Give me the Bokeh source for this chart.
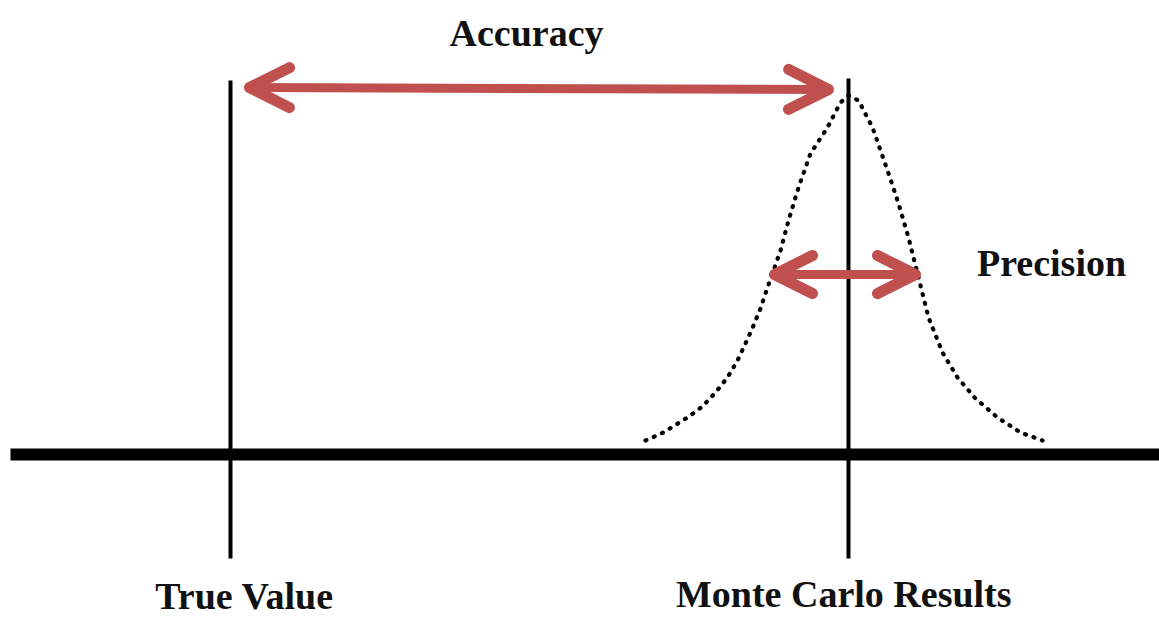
from bokeh.plotting import figure
from bokeh.models import Range1d, Arrow, OpenHead, ColumnDataSource
from bokeh.core.properties import value
from bokeh.embed import file_html
from bokeh.resources import INLINE

# ---- data (page-pixel coordinates) ----
axis_x = [10, 1159]
axis_y = [454, 454]

true_x = [230, 230]
true_y = [80, 558]
mc_x = [848, 848]
mc_y = [78, 558]

curve_x = [645, 663, 687, 702, 715, 727, 737, 745, 753, 760, 766, 772, 780, 788, 798,
           810, 827, 840, 848, 858, 872, 887, 898, 908, 917, 928, 942, 957, 975, 997, 1020, 1042]
curve_y = [440, 432, 417, 406, 392, 377, 360, 343, 325, 308, 290, 273, 250, 220, 187,
           153, 127, 102, 95, 100, 127, 170, 203, 237, 273, 317, 352, 377, 398, 417, 432, 440]

accuracy_arrow = dict(x0=249, x1=828, y0=87, y1=89)
precision_arrow = dict(x0=774, x1=915, y0=274, y1=274)

labels = ["Accuracy", "Precision", "True Value", "Monte Carlo  Results"]
label_x = [526, 1051, 244, 848]
label_y = [32, 262, 595, 593]

RED = "#C0504D"

p = figure(width=1159, height=619, output_backend="svg", toolbar_location=None,
           x_range=Range1d(0, 1159), y_range=Range1d(619, 0),
           min_border=0, background_fill_color="white", border_fill_color="white")
p.axis.visible = False
p.grid.visible = False
p.outline_line_color = None

# base axis line
p.line(axis_x, axis_y, line_color="black", line_width=12, line_cap="butt")

# vertical lines
p.line(true_x, true_y, line_color="black", line_width=4)
p.line(mc_x, mc_y, line_color="black", line_width=4)

# dotted distribution curve
p.line(curve_x, curve_y, line_color="black", line_width=4.2, line_dash="1 8",
       line_cap="round", line_join="round")

def add_arrow(a, size):
    head_kw = dict(size=size, line_color=RED, line_width=11, line_join="round", line_cap="round")
    p.add_layout(Arrow(x_start=a["x0"], y_start=a["y0"], x_end=a["x1"], y_end=a["y1"],
                       line_color=RED, line_width=9,
                       start=OpenHead(**head_kw), end=OpenHead(**head_kw)))

add_arrow(accuracy_arrow, 40)
add_arrow(precision_arrow, 38)

src = ColumnDataSource(dict(x=label_x, y=label_y, t=labels))
p.text(x="x", y="y", text="t", source=src, text_font=value("Liberation Serif"),
       text_font_style="bold", text_font_size="38px", text_color="#111111",
       text_align="center", text_baseline="alphabetic")

open("out.html", "w").write(file_html(p, INLINE))
